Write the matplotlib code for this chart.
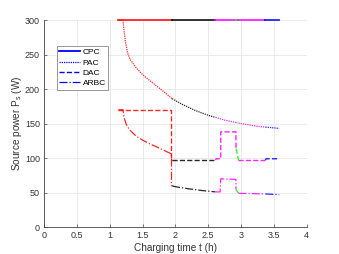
import numpy as np
import matplotlib
matplotlib.use("Agg")
import matplotlib.pyplot as plt
from matplotlib.lines import Line2D

plt.rcParams['font.family'] = ['Liberation Sans', 'DejaVu Sans']
plt.rcParams['mathtext.fontset'] = 'custom'
plt.rcParams['mathtext.rm'] = 'Liberation Sans'
plt.rcParams['mathtext.it'] = 'Liberation Sans:italic'

# charging phases (start, end, colour)
phase_start = [1.13, 1.95, 2.61, 2.925, 2.96, 3.37]
phase_end = [1.95, 2.61, 2.925, 2.96, 3.37, 3.58]
phase_color = ['#ff0000', '#000000', '#ff00ff', '#00ff00', '#ff00ff', '#0000ff']

# CPC
t_cpc = [1.13, 3.58]
p_cpc = [300, 300]

# PAC
t_pac = [1.13, 1.2, 1.22, 1.24, 1.27, 1.31, 1.4, 1.5, 1.6, 1.72, 1.85, 1.95, 2.1, 2.3,
         2.5, 2.75, 3.0, 3.25, 3.58]
p_pac = [300, 300, 283, 268, 253, 243, 231, 221, 213, 204, 194, 186, 178, 169,
         162, 155, 150, 146, 143]

# DAC
t_dac = [1.13, 1.94, 1.94, 2.61, 2.62, 2.69, 2.69, 2.92, 2.922, 2.96, 3.37, 3.38, 3.58]
p_dac = [170, 170, 97, 97, 99, 99, 138, 138, 115, 97, 97, 99, 99]

# ARBC
t_arbc = [1.13, 1.2, 1.22, 1.25, 1.3, 1.4, 1.5, 1.6, 1.72, 1.83, 1.94, 1.94, 2.0, 2.2,
          2.4, 2.61, 2.68, 2.69, 2.92, 2.922, 2.96, 3.37, 3.58]
p_arbc = [170, 170, 158, 149, 141, 132, 126, 121, 116, 111, 106, 60, 58.5, 55.5,
          53, 51, 51, 70, 69, 55, 49, 48, 47]

series = [
    (t_cpc, p_cpc, '-', 1.3),
    (t_pac, p_pac, (0, (1, 0.8)), 0.9),
    (t_dac, p_dac, '--', 1.0),
    (t_arbc, p_arbc, '-.', 0.9),
]
labels = ['CPC', 'PAC', 'DAC', 'ARBC']

fig = plt.figure(figsize=(3.39, 2.54), dpi=100)
ax = fig.add_axes([0.13, 0.106, 0.775, 0.815])

for t, p, ls, lw in series:
    t = np.array(t, dtype=float)
    p = np.array(p, dtype=float)
    for a, b, c in zip(phase_start, phase_end, phase_color):
        a = max(a, t.min())
        b = min(b, t.max())
        if b <= a:
            continue
        m = (t > a) & (t < b)
        tt = np.concatenate([[a], t[m], [b]])
        pp = np.concatenate([[np.interp(a, t, p)], p[m], [np.interp(b, t, p)]])
        ax.plot(tt, pp, ls=ls, lw=lw, color=c, alpha=0.85, clip_on=False)

ax.set_xlim(0, 4)
ax.set_ylim(0, 300)
ax.set_xticks(np.arange(0, 4.01, 0.5))
ax.set_xticklabels(['0', '0.5', '1', '1.5', '2', '2.5', '3', '3.5', '4'])
ax.set_yticks(np.arange(0, 301, 50))
ax.grid(True, color='#e8e8e8', lw=0.6)
ax.set_axisbelow(True)
for s in ['top', 'right']:
    ax.spines[s].set_visible(False)
for s in ['left', 'bottom']:
    ax.spines[s].set_color('#444444')
    ax.spines[s].set_linewidth(0.6)
ax.tick_params(direction='in', length=2, width=0.5, labelsize=6.5,
               colors='#444444', labelcolor='#333333', pad=3)
ax.set_xlabel('Charging time t (h)', fontsize=7.2, color='#333333', labelpad=2)
ax.set_ylabel('Source power P$_\\mathrm{s}$ (W)', fontsize=7.2, color='#333333', labelpad=1)

handles = [Line2D([], [], color='#0000ff', ls=ls, lw=lw) for _, _, ls, lw in series]
leg = ax.legend(handles, labels, loc='upper left', bbox_to_anchor=(0.048, 0.875),
                fontsize=6, fancybox=False, framealpha=1, edgecolor='#888888',
                handlelength=2.5, handletextpad=0.3, borderpad=0.3,
                labelspacing=0.3, borderaxespad=0)
leg.get_frame().set_linewidth(0.6)

fig.savefig('out.png', dpi=100)
